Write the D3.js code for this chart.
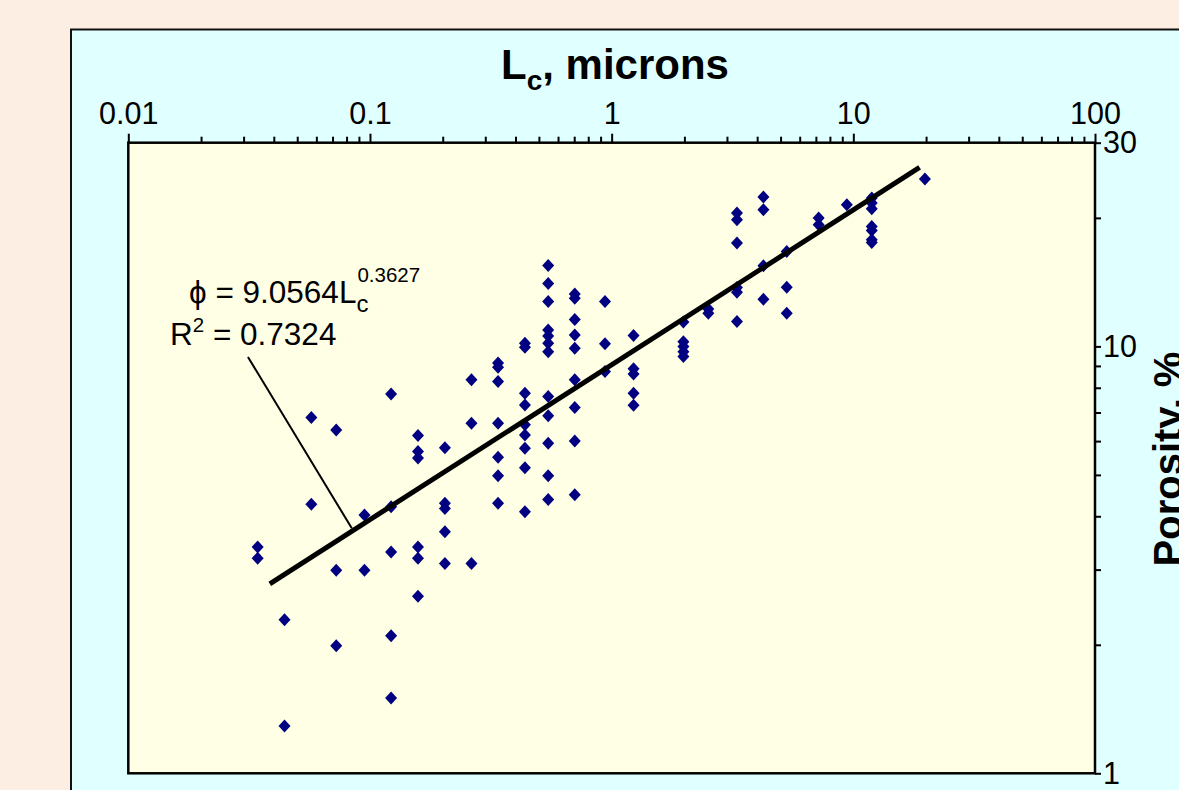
<!DOCTYPE html>
<html>
<head>
<meta charset="utf-8">
<script src="https://cdn.jsdelivr.net/npm/d3@7"></script>
<style>
  body { margin: 0; background: #fdeee3; }
  text { font-family: "Liberation Sans", Arial, sans-serif; fill: #000; }
</style>
</head>
<body>
<svg id="chart"></svg>
<script>
// columns of Lc (microns) and the porosity values measured at each
const lcColumns = [0.0343, 0.0443, 0.0572, 0.0725, 0.0949, 0.1223, 0.158, 0.2042,
  0.263, 0.3388, 0.4377, 0.5463, 0.7037, 0.9385, 1.232, 1.981, 2.512, 3.30,
  4.246, 5.303, 7.187, 9.401, 11.92, 19.78];
const porosityColumns = [
  [3.39, 3.19],
  [2.29, 1.29],
  [6.81, 4.27],
  [6.37, 2.99, 1.99],
  [4.03, 2.99],
  [7.74, 4.21, 3.30, 2.10, 1.50],
  [6.18, 5.67, 5.48, 3.39, 3.19, 2.60],
  [5.79, 4.29, 4.17, 3.68, 3.10],
  [8.35, 6.61, 3.10],
  [9.14, 8.94, 8.27, 6.61, 5.50, 4.98, 4.29],
  [10.17, 9.96, 7.77, 7.29, 6.55, 6.20, 5.77, 5.20, 4.10],
  [15.47, 14.04, 12.74, 10.93, 10.58, 10.17, 9.72, 7.63, 6.88, 5.93, 4.98, 4.38],
  [13.26, 12.97, 11.56, 10.64, 9.90, 8.35, 7.19, 6.00, 4.49],
  [12.74, 10.15, 8.73],
  [10.60, 8.86, 8.62, 7.77, 7.28],
  [11.40, 10.26, 9.99, 9.72, 9.47],
  [12.23, 11.96],
  [20.53, 19.80, 17.46, 13.74, 13.40, 11.43],
  [22.38, 20.89, 15.45, 12.90],
  [16.69, 13.76, 11.96],
  [19.98, 19.27],
  [21.47],
  [22.26, 21.67, 21.01, 19.10, 18.69, 17.77, 17.52],
  [24.66]
];

// power-law fit shown on the chart
const fitA = 9.0564;
const fitB = 0.3627;
const fitR2 = 0.7324;
const fitRange = [0.0385, 18.8];

const xDomain = [0.01, 100];
const yDomain = [1, 30];
const xTickLabels = [0.01, 0.1, 1, 10, 100];
const yTickLabels = [1, 10, 30];

const width = 1179, height = 790;
const plot = { left: 128.3, right: 1095, top: 142.7, bottom: 773.3 };

const svg = d3.select('#chart')
    .attr('width', width)
    .attr('height', height);

svg.append('rect')
    .attr('width', width).attr('height', height)
    .attr('fill', '#fdeee3');

// chart panel (runs off the right and bottom edge)
svg.append('rect')
    .attr('x', 71).attr('y', 29.5)
    .attr('width', 1200).attr('height', 800)
    .attr('fill', '#e0ffff')
    .attr('stroke', '#111')
    .attr('stroke-width', 2);

svg.append('rect')
    .attr('x', plot.left).attr('y', plot.top)
    .attr('width', plot.right - plot.left)
    .attr('height', plot.bottom - plot.top)
    .attr('fill', '#ffffe6');

const xScale = d3.scaleLog().domain(xDomain).range([plot.left, plot.right]);
const yScale = d3.scaleLog().domain(yDomain).range([plot.bottom, plot.top]);

// ticks: every 1..9 step of each decade
const xTicks = [];
[0.01, 0.1, 1, 10].forEach(p => d3.range(1, 10).forEach(k => xTicks.push(+(p * k).toPrecision(3))));
xTicks.push(100);
const yTicks = [1, 2, 3, 4, 5, 6, 7, 8, 9, 10, 20, 30];
const fmt = d3.format('~g');

const xAxis = d3.axisTop(xScale)
    .tickValues(xTicks)
    .tickSize(6)
    .tickPadding(13)
    .tickFormat(d => xTickLabels.includes(d) ? fmt(d) : '');

const yAxis = d3.axisRight(yScale)
    .tickValues(yTicks)
    .tickSize(6)
    .tickPadding(2)
    .tickFormat(d => yTickLabels.includes(d) ? fmt(d) : '');

const xAxisG = svg.append('g')
    .attr('transform', `translate(0,${plot.top})`)
    .call(xAxis);
xAxisG.select('.domain').remove();
xAxisG.selectAll('.tick line')
    .attr('stroke', '#000').attr('stroke-width', 2)
    .attr('y2', d => xTickLabels.includes(d) ? -9 : -6);
xAxisG.selectAll('.tick text').attr('font-size', 30.5);

const yAxisG = svg.append('g')
    .attr('transform', `translate(${plot.right},0)`)
    .call(yAxis);
yAxisG.select('.domain').remove();
yAxisG.selectAll('.tick line').attr('stroke', '#000').attr('stroke-width', 2);
yAxisG.selectAll('.tick text').attr('font-size', 30.5);

// plot frame
svg.append('rect')
    .attr('x', plot.left).attr('y', plot.top)
    .attr('width', plot.right - plot.left)
    .attr('height', plot.bottom - plot.top)
    .attr('fill', 'none')
    .attr('stroke', '#000')
    .attr('stroke-width', 2.5);

// points
const points = [];
lcColumns.forEach((lc, i) => porosityColumns[i].forEach(p => points.push({ lc: lc, phi: p })));

svg.append('g').selectAll('path')
    .data(points)
    .enter()
    .append('path')
    .attr('d', 'M0,-6.5L6,0L0,6.5L-6,0Z')
    .attr('transform', d => `translate(${xScale(d.lc)},${yScale(d.phi)})`)
    .attr('fill', '#000080');

// trend line
const fit = fitRange.map(l => ({ lc: l, phi: fitA * Math.pow(l, fitB) }));
svg.append('path')
    .datum(fit)
    .attr('d', d3.line().x(d => xScale(d.lc)).y(d => yScale(d.phi)))
    .attr('stroke', '#000')
    .attr('stroke-width', 5)
    .attr('fill', 'none');

// leader from the equation label to the line
const leader = [{ lc: 0.03127, phi: 9.445 }, { lc: 0.0841, phi: 3.749 }];
svg.append('path')
    .datum(leader)
    .attr('d', d3.line().x(d => xScale(d.lc)).y(d => yScale(d.phi)))
    .attr('stroke', '#000')
    .attr('stroke-width', 2)
    .attr('fill', 'none');

const eq = svg.append('text')
    .attr('x', 189).attr('y', 303)
    .attr('font-size', 31.5);
eq.append('tspan').text('\u03d5 = ' + fitA + 'L');
eq.append('tspan').attr('dy', 9).attr('font-size', 24).text('c');
eq.append('tspan').attr('dx', -11).attr('dy', -30).attr('font-size', 20.5).text(fitB);

const r2 = svg.append('text')
    .attr('x', 170).attr('y', 345)
    .attr('font-size', 31.5);
r2.append('tspan').text('R');
r2.append('tspan').attr('dy', -13).attr('font-size', 20.5).text('2');
r2.append('tspan').attr('dy', 13).text(' = ' + fitR2);

// axis titles
const title = svg.append('text')
    .attr('x', 615).attr('y', 79)
    .attr('text-anchor', 'middle')
    .attr('font-size', 42)
    .attr('font-weight', 'bold');
title.append('tspan').text('L');
title.append('tspan').attr('dy', 11).attr('font-size', 28).text('c');
title.append('tspan').attr('dy', -11).text(', microns');

svg.append('text')
    .attr('transform', 'translate(1182,459) rotate(-90)')
    .attr('text-anchor', 'middle')
    .attr('font-size', 40)
    .attr('font-weight', 'bold')
    .text('Porosity, %');
</script>
</body>
</html>
